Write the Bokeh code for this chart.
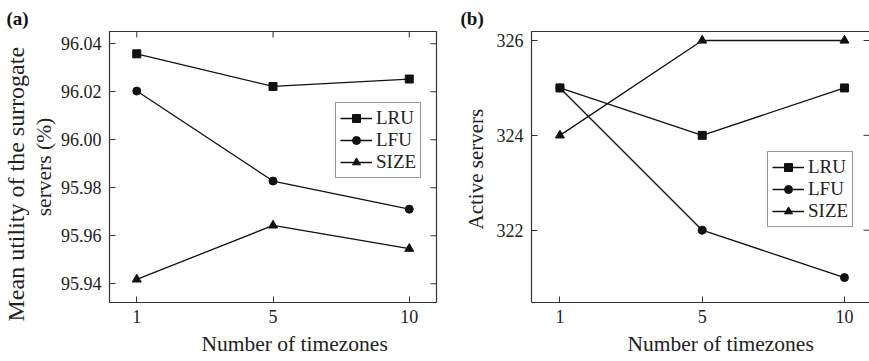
import math
from bokeh.plotting import figure
from bokeh.layouts import row
from bokeh.models import (Range1d, FixedTicker, LinearAxis, Legend, LegendItem,
                          Title, PrintfTickFormatter)
from bokeh.embed import file_html
from bokeh.resources import INLINE

# ---------------- data ----------------
timezones = ["1", "5", "10"]
series_names = ["LRU", "LFU", "SIZE"]

utility_lru = [96.0358, 96.0222, 96.0253]
utility_lfu = [96.0203, 95.9828, 95.9711]
utility_size = [95.9418, 95.9643, 95.9546]
utility_ticks = [95.94, 95.96, 95.98, 96.00, 96.02, 96.04]

active_lru = [325, 324, 325]
active_lfu = [325, 322, 321]
active_size = [324, 326, 326]
active_ticks = [322, 324, 326]

x_title = "Number of timezones"
utility_title = ["Mean utility of the surrogate", "servers (%)"]
active_title = "Active servers"

# ---------------- style ----------------
FONT = "Liberation Serif"
FRAME = "#333333"
INK = "#111111"
TXT = "#222222"
MARKERS = ["square", "circle", "triangle"]
MSIZE = [8, 8, 9]
H = 361


def style_axis(ax):
    ax.axis_line_color = None
    ax.major_tick_in = 6
    ax.major_tick_out = 0
    ax.major_tick_line_color = FRAME
    ax.major_tick_line_width = 1
    ax.minor_tick_line_color = None
    ax.major_label_text_font = FONT
    ax.major_label_text_font_size = "18px"
    ax.major_label_text_color = TXT
    ax.axis_label_text_font = FONT
    ax.axis_label_text_font_style = "normal"
    ax.axis_label_text_color = TXT


def style_title(t, text, size, offset, standoff, bold=False):
    t.text = text
    t.align = "left"
    t.offset = offset
    t.standoff = standoff
    t.text_font = FONT
    t.text_font_size = size
    t.text_font_style = "bold" if bold else "normal"
    t.text_color = "#111111" if bold else TXT
    t.vertical_align = "bottom"
    return t


def make_panel(ys_list, y_range, y_ticks, y_fmt, width, borders, x_range,
               legend_xy, top_ticks, full_outline):
    left, right, top, bottom = borders
    p = figure(width=width, height=H,
               x_range=Range1d(*x_range), y_range=Range1d(*y_range),
               output_backend="svg", toolbar_location=None,
               min_border_left=left, min_border_right=right,
               min_border_top=top, min_border_bottom=bottom)
    p.xgrid.visible = False
    p.ygrid.visible = False
    p.background_fill_color = "white"
    p.border_fill_color = "white"

    xs = list(range(len(timezones)))
    overrides = {i: t for i, t in enumerate(timezones)}

    xa = p.xaxis[0]
    xa.ticker = FixedTicker(ticks=xs)
    xa.major_label_overrides = overrides
    style_axis(xa)
    xa.major_label_standoff = 7

    ya = p.yaxis[0]
    ya.ticker = FixedTicker(ticks=y_ticks)
    ya.formatter = PrintfTickFormatter(format=y_fmt)
    style_axis(ya)
    ya.major_label_standoff = 8

    if full_outline:
        p.outline_line_color = FRAME
        p.outline_line_width = 1.2
    else:
        # frame drawn on three sides only (the right side lies past the page)
        p.outline_line_color = None
        for ax in (xa, ya):
            ax.axis_line_color = FRAME
            ax.axis_line_width = 1.2
        top_line = LinearAxis(ticker=FixedTicker(ticks=[]),
                              axis_line_color=FRAME, axis_line_width=1.2,
                              major_tick_line_color=None,
                              minor_tick_line_color=None)
        p.add_layout(top_line, "above")

    # inward tick marks on the right edge (and the top edge), as half-clipped dashes
    x_end = x_range[1]
    y_end = y_range[1]
    p.scatter([x_end] * len(y_ticks), y_ticks, marker="dash", size=12,
              line_color=FRAME, line_width=1)
    if top_ticks:
        p.scatter(xs, [y_end] * len(xs), marker="dash", size=12, angle=math.pi / 2,
                  line_color=FRAME, line_width=1)

    items = []
    for name, ys, mk, ms in zip(series_names, ys_list, MARKERS, MSIZE):
        lr = p.line(xs, ys, line_color=INK, line_width=1.3)
        sr = p.scatter(xs, ys, marker=mk, size=ms, fill_color=INK, line_color=INK)
        items.append(LegendItem(label=name, renderers=[lr, sr]))

    leg = Legend(items=items, location=legend_xy)
    leg.border_line_color = FRAME
    leg.border_line_width = 1
    leg.background_fill_color = "white"
    leg.background_fill_alpha = 1
    leg.padding = 4
    leg.spacing = -6
    leg.margin = 0
    leg.glyph_width = 32
    leg.glyph_height = 20
    leg.label_height = 20
    leg.label_standoff = 4
    leg.label_text_font = FONT
    leg.label_text_font_size = "19px"
    leg.label_text_color = TXT
    p.add_layout(leg)
    return p


# ---------------- panel (a) ----------------
pa = make_panel([utility_lru, utility_lfu, utility_size],
                (95.9322, 96.0451), utility_ticks, "%.2f",
                448, (109, 12, 31, 59), (-0.2, 2.2), (226, 124), True, True)
style_title(pa.title, "(a)", "19px", -103, 6, bold=True)
ya = pa.yaxis[0]
ya.axis_label = utility_title[1]
ya.axis_label_text_font_size = "21.5px"
ya.axis_label_standoff = 2
pa.add_layout(style_title(Title(), utility_title[0], "24px", -19, 0), "left")
pa.add_layout(style_title(Title(), x_title, "21.5px", 92, 9), "below")

# ---------------- panel (b) ----------------
pb = make_panel([active_lru, active_lfu, active_size],
                (320.475, 326.19), active_ticks, "%d",
                421, (83, 0, 31, 59), (-0.2, 2.176), (236, 75), False, False)
style_title(pb.title, "(b)", "19px", -71, 6, bold=True)
pb.add_layout(style_title(Title(), active_title, "21px", 73, 12), "left")
pb.add_layout(style_title(Title(), x_title, "21.5px", 96, 9), "below")

layout = row(pa, pb)
open("out.html", "w").write(file_html(layout, INLINE))
